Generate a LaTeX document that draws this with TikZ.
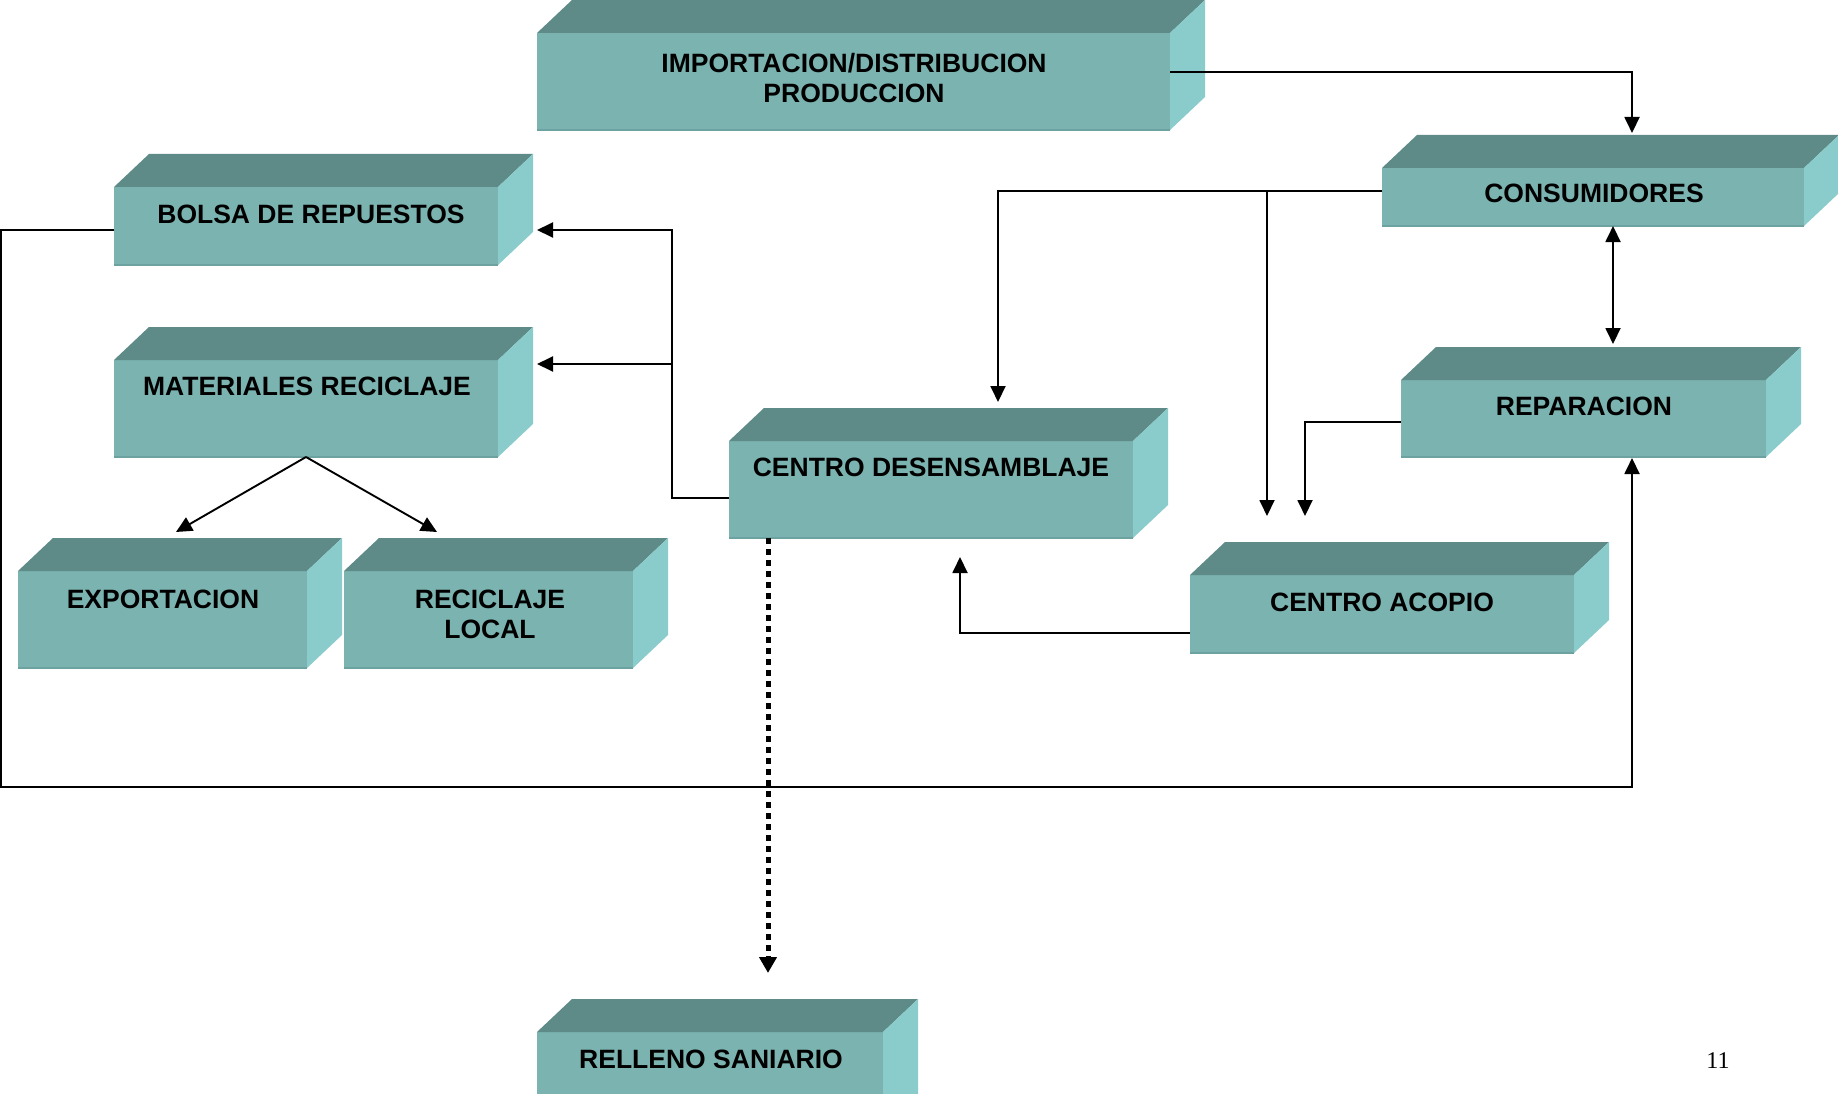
\documentclass[tikz,border=0pt]{standalone}
\usepackage{fontspec}
\setmainfont{Liberation Sans}
\newfontfamily\serifnum{Liberation Serif}
\usetikzlibrary{arrows.meta,calc,fit}
\definecolor{frontc}{RGB}{122,179,176}
\definecolor{topc}{RGB}{94,138,135}
\definecolor{sidec}{RGB}{137,204,203}
\definecolor{edgec}{RGB}{108,163,160}
\tikzset{
  front/.style={fill=frontc, draw=none, inner sep=0pt, outer sep=0pt},
  lbl/.style={font=\bfseries\fontsize{26.5}{30}\selectfont, inner sep=0pt, anchor=north, align=center},
  conn/.style={line width=1.9pt, draw=black},
  tip/.style={-{Triangle[length=16pt,width=15pt]}},
  dtip/.style={{Triangle[length=16pt,width=15pt]}-{Triangle[length=16pt,width=15pt]}},
  dots/.style={line width=5pt, dash pattern=on 6pt off 5pt, -{Triangle[length=16pt,width=17pt]}}
}
\newcommand{\prism}[5]{%
  \node[front, fit={(#2,#3) (#4,#5)}] (#1) {};
  \draw[edgec, line width=1.5pt] (#1.south west) -- (#1.south east);
  \fill[topc] (#1.north west) -- ++(35,-33) -- ($(#1.north east)+(35,-33)$) -- (#1.north east) -- cycle;
  \fill[sidec] (#1.north east) -- ++(35,-33) -- ($(#1.south east)+(35,-33)$) -- (#1.south east) -- cycle;
}
\begin{document}
\begin{tikzpicture}[x=1pt,y=-1pt]
\path[use as bounding box] (0,0) rectangle (1838,1094);
\clip (0,0) rectangle (1838,1094);
\fill[white] (0,0) rectangle (1838,1094);

% boxes (front faces)
\prism{import}{537}{33}{1170}{130}
\prism{bolsa}{114}{187}{498}{265}
\prism{mater}{114}{360}{498}{457}
\prism{export}{18}{571}{307}{668}
\prism{recic}{344}{571}{633}{668}
\prism{desens}{729}{441}{1133}{538}
\prism{cons}{1382}{168}{1804}{226}
\prism{repar}{1401}{380}{1766}{457}
\prism{acopio}{1190}{575}{1574}{653}
\prism{relleno}{537}{1032}{883}{1130}

% labels
\node[lbl] (importT) at (854,53) {IMPORTACION/DISTRIBUCION\\PRODUCCION};
\node[lbl] (bolsaT) at (311,205) {BOLSA DE REPUESTOS};
\node[lbl] (materT) at (307,377) {MATERIALES RECICLAJE};
\node[lbl] (exportT) at (163,590) {EXPORTACION};
\node[lbl] (recicT) at (490,590) {RECICLAJE\\LOCAL};
\node[lbl] (desensT) at (931,458) {CENTRO DESENSAMBLAJE};
\node[lbl] (consT) at (1594,184) {CONSUMIDORES};
\node[lbl] (reparT) at (1584,397) {REPARACION};
\node[lbl] (acopioT) at (1382,593) {CENTRO ACOPIO};
\node[lbl] (rellenoT) at (711,1050) {RELLENO SANIARIO};
\node[font=\serifnum\fontsize{24}{28}\selectfont, inner sep=0pt, anchor=base] (pagenum) at (1718,1068) {11};

% connector end points
\coordinate (consTop) at (1632,133);
\coordinate (desensTop) at (998,402);
\coordinate (consJoin) at (1267,191);
\coordinate (acopioTopA) at (1267,516);
\coordinate (acopioTopB) at (1305,516);
\coordinate (desensBot) at (960,557);
\coordinate (bolsaR) at (537,230);
\coordinate (materR) at (537,364);
\coordinate (exportTop) at (176,532);
\coordinate (recicTop) at (437,532);
\coordinate (reparBot) at (1632,458);
\coordinate (reparTopC) at (1613,344);
\coordinate (rellenoTop) at (768,973);

% connectors
\draw[conn,tip] (import.east |- 0,72) -| (consTop);
\draw[conn,tip] (cons.west |- 0,191) -| (desensTop);
\draw[conn,tip] (consJoin) -- (acopioTopA);
\draw[conn,dtip] (reparTopC |- cons.south) -- (reparTopC);
\draw[conn,tip] (repar.west |- 0,422) -| (acopioTopB);
\draw[conn,tip] (acopio.west |- 0,633) -| (desensBot);
\draw[conn,tip] (desens.west |- 0,498) -- (672,498) |- (bolsaR);
\draw[conn,tip] (672,364) -- (materR);
\draw[conn,tip] (mater.south) -- (exportTop);
\draw[conn,tip] (mater.south) -- (recicTop);
\draw[conn,tip] (bolsa.west |- 0,230) -- (1,230) -- (1,787) -| (reparBot);
\draw[dots] (768,538) -- (rellenoTop);
\end{tikzpicture}
\end{document}
